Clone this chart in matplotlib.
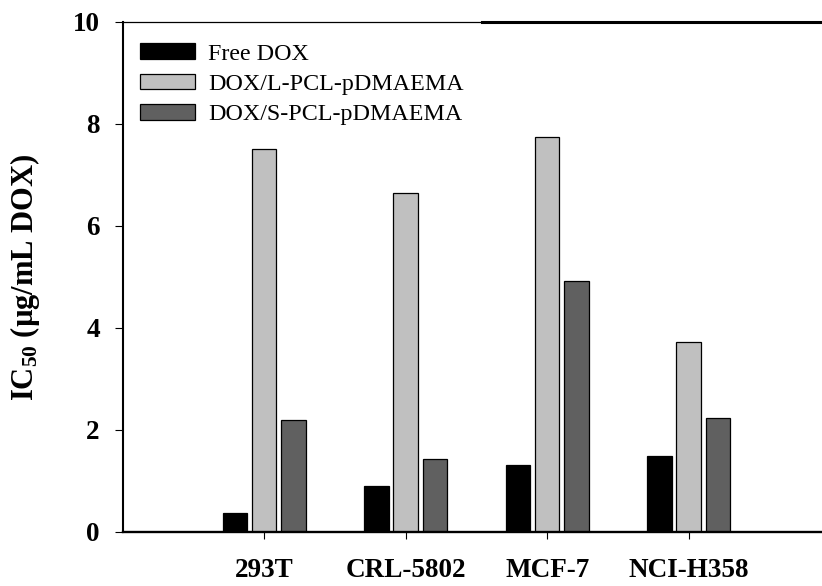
import numpy as np
import matplotlib
matplotlib.use('Agg')
import matplotlib.pyplot as plt

# values (IC50, ug/mL DOX)
cells = ['293T', 'CRL-5802', 'MCF-7', 'NCI-H358']
free_dox = [0.38, 0.90, 1.31, 1.48]
l_pcl = [7.50, 6.65, 7.74, 3.73]
s_pcl = [2.20, 1.44, 4.92, 2.24]
labels = ['Free DOX', 'DOX/L-PCL-pDMAEMA', 'DOX/S-PCL-pDMAEMA']
colors = ['#000000', '#c0c0c0', '#606060']

plt.rcParams['font.family'] = 'Liberation Serif'
plt.rcParams['mathtext.fontset'] = 'custom'
plt.rcParams['mathtext.rm'] = 'Liberation Serif:bold'
plt.rcParams['mathtext.it'] = 'Liberation Serif:bold'
plt.rcParams['mathtext.bf'] = 'Liberation Serif:bold'

fig = plt.figure(figsize=(8.22, 5.86), dpi=100)
ax = fig.add_axes([0.1493, 0.0922, 0.8507, 0.8703])

x = np.arange(1, len(cells) + 1)
w = 0.173
off = 0.208
for i, vals in enumerate([free_dox, l_pcl, s_pcl]):
    ax.bar(x + (i - 1) * off, vals, width=w, color=colors[i],
           edgecolor='black', linewidth=0.9, label=labels[i])

ax.set_xlim(0, 4.942)
ax.set_ylim(0, 10)
ax.set_xticks(x)
ax.set_xticklabels(cells, fontweight='bold', fontsize=19.5)
ax.set_yticks([0, 2, 4, 6, 8, 10])
ax.set_yticklabels(['0', '2', '4', '6', '8', '10'], fontweight='bold', fontsize=19.5)
ax.tick_params(axis='y', direction='out', length=5.5, width=0.8, pad=11)
ax.tick_params(axis='x', direction='out', length=5, width=0.8, pad=14)

ax.spines['right'].set_visible(False)
ax.spines['left'].set_linewidth(1.5)
ax.spines['bottom'].set_linewidth(1.7)
ax.spines['top'].set_linewidth(0.9)
# heavier segment on the right part of the top frame
ax.axhline(10, xmin=0.514, xmax=1.0, color='black', lw=2.2, clip_on=False)

ax.set_ylabel('IC$_{50}$ (µg/mL DOX)', fontweight='bold', fontsize=22)
ax.yaxis.set_label_coords(-0.115, 0.5)

ax.legend(loc='upper left', bbox_to_anchor=(0.0247, 0.958), frameon=False,
          fontsize=17.25, handlelength=2.3, handleheight=0.63,
          handletextpad=0.54, labelspacing=0.38, borderpad=0, borderaxespad=0)

plt.savefig('out.png', dpi=100)
